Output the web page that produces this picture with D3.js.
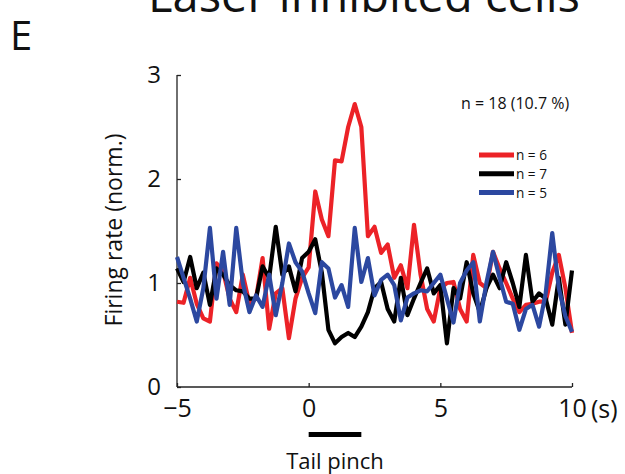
<!DOCTYPE html>
<html><head><meta charset="utf-8">
<script src="https://cdn.jsdelivr.net/npm/d3@7"></script>
<style>body{margin:0;background:#fff}svg{display:block}text{font-family:"Open Sans","Noto Sans",sans-serif}</style>
</head><body>
<script>
const tStart = -5, tStep = 0.25;
const redVals = [0.82,0.81,1.05,0.80,0.66,0.63,1.19,1.11,0.85,0.72,1.08,0.80,0.85,1.24,0.56,0.90,0.95,0.47,0.85,1.05,1.15,1.88,1.61,1.45,2.18,2.17,2.50,2.72,2.50,1.45,1.54,1.29,1.37,1.05,1.17,0.95,1.56,1.08,0.75,0.63,0.95,1.00,1.01,0.75,0.63,1.27,1.00,0.95,1.30,1.14,1.00,0.85,0.72,0.79,0.80,0.82,0.82,1.10,1.27,0.95,0.52];
const blackVals = [1.14,1.01,1.25,0.95,1.10,0.79,1.14,1.08,0.98,0.93,0.92,0.85,0.85,1.16,1.05,1.54,1.08,1.16,0.92,1.24,1.30,1.42,1.10,0.55,0.42,0.48,0.52,0.48,0.58,0.72,0.95,1.01,0.75,0.63,1.05,0.69,0.85,1.00,1.14,0.90,0.98,0.42,0.95,0.85,1.20,0.90,0.72,0.95,1.08,0.95,1.20,1.00,0.77,1.27,0.82,0.90,0.85,0.60,1.05,0.60,1.12];
const blueVals = [1.25,1.05,0.85,0.63,0.95,1.53,0.85,1.30,0.79,1.53,1.00,0.72,0.88,0.77,1.08,0.69,1.00,1.38,1.20,1.11,0.90,0.71,1.20,1.14,0.86,0.98,0.77,1.53,1.01,1.24,0.88,1.03,1.08,0.98,0.64,0.86,0.90,0.93,0.92,1.00,1.08,0.85,0.62,1.00,1.12,1.20,0.63,1.00,1.30,1.05,0.82,0.80,0.55,0.75,0.79,0.58,0.90,1.48,0.95,0.68,0.53];
const seriesNames = ["n = 6","n = 7","n = 5"];
const seriesColors = ["#ec2227","#000000","#2c48a0"];
const xTicks = [-5,0,5,10];
const yTicks = [0,1,2,3];
const pinch = [0,2];

const W=625,H=474;
const svg=d3.select("body").append("svg").attr("width",W).attr("height",H);
const x=d3.scaleLinear().domain([-5,10]).range([177,572]);
const y=d3.scaleLinear().domain([0,3]).range([387,75]);

svg.append("text").attr("x",364).attr("y",12).attr("text-anchor","middle").attr("font-size",47).attr("fill","#111").text("Laser inhibited cells");
svg.append("text").attr("x",10).attr("y",50).attr("font-size",40).attr("fill","#111").text("E");

// axes
const gy=svg.append("g").attr("transform","translate(177,0)")
 .call(d3.axisLeft(y).tickValues(yTicks).tickSize(-4).tickPadding(16).tickFormat(d3.format("d")));
const gx=svg.append("g").attr("transform","translate(0,387)")
 .call(d3.axisBottom(x).tickValues(xTicks).tickSize(-4).tickPadding(10).tickFormat(d=>d<0?"\u2212"+Math.abs(d):d));
[gx,gy].forEach(g=>{g.select(".domain").attr("stroke","#222").attr("stroke-width",1.3);
 g.selectAll(".tick line").attr("stroke","#222").attr("stroke-width",1.3);
 g.selectAll("text").attr("font-size",24).attr("fill","#111").attr("font-family",'"Open Sans",sans-serif');});
gy.selectAll(".tick text").attr("dy","0.3em");
gy.select(".domain").attr("d","M0,387V75");
gx.select(".domain").attr("d","M177,0H572");
gx.selectAll(".tick text").attr("dy","0.8em").attr("font-size",25);
svg.append("text").attr("x",x(10)+19).attr("y",387+31).attr("font-size",25).attr("fill","#111").text("(s)");

svg.append("text").attr("transform","translate(122,230) rotate(-90)").attr("text-anchor","middle").attr("font-size",23).attr("fill","#111").text("Firing rate (norm.)");

const all=[redVals,blackVals,blueVals];
const line=d3.line().x((d,i)=>x(tStart+i*tStep)).y(d=>y(d));
all.forEach((vals,k)=>{
 svg.append("path").datum(vals).attr("d",line).attr("fill","none").attr("stroke",seriesColors[k]).attr("stroke-width",4.2).attr("stroke-linejoin","round");
});

svg.append("text").attr("x",461).attr("y",109).attr("font-size",16).attr("fill","#111").text("n = 18 (10.7 %)");
seriesNames.forEach((n,k)=>{
 const yy=155+k*18.8;
 svg.append("line").attr("x1",479).attr("x2",514).attr("y1",yy).attr("y2",yy).attr("stroke",seriesColors[k]).attr("stroke-width",5);
 svg.append("text").attr("x",516).attr("y",yy+5).attr("font-size",13.6).attr("fill","#111").text(n);
});

svg.append("rect").attr("x",x(pinch[0])).attr("y",432).attr("width",x(pinch[1])-x(pinch[0])).attr("height",5).attr("fill","#000");
svg.append("text").attr("x",(x(pinch[0])+x(pinch[1]))/2).attr("y",469).attr("text-anchor","middle").attr("font-size",22).attr("fill","#111").text("Tail pinch");
</script>
</body></html>
